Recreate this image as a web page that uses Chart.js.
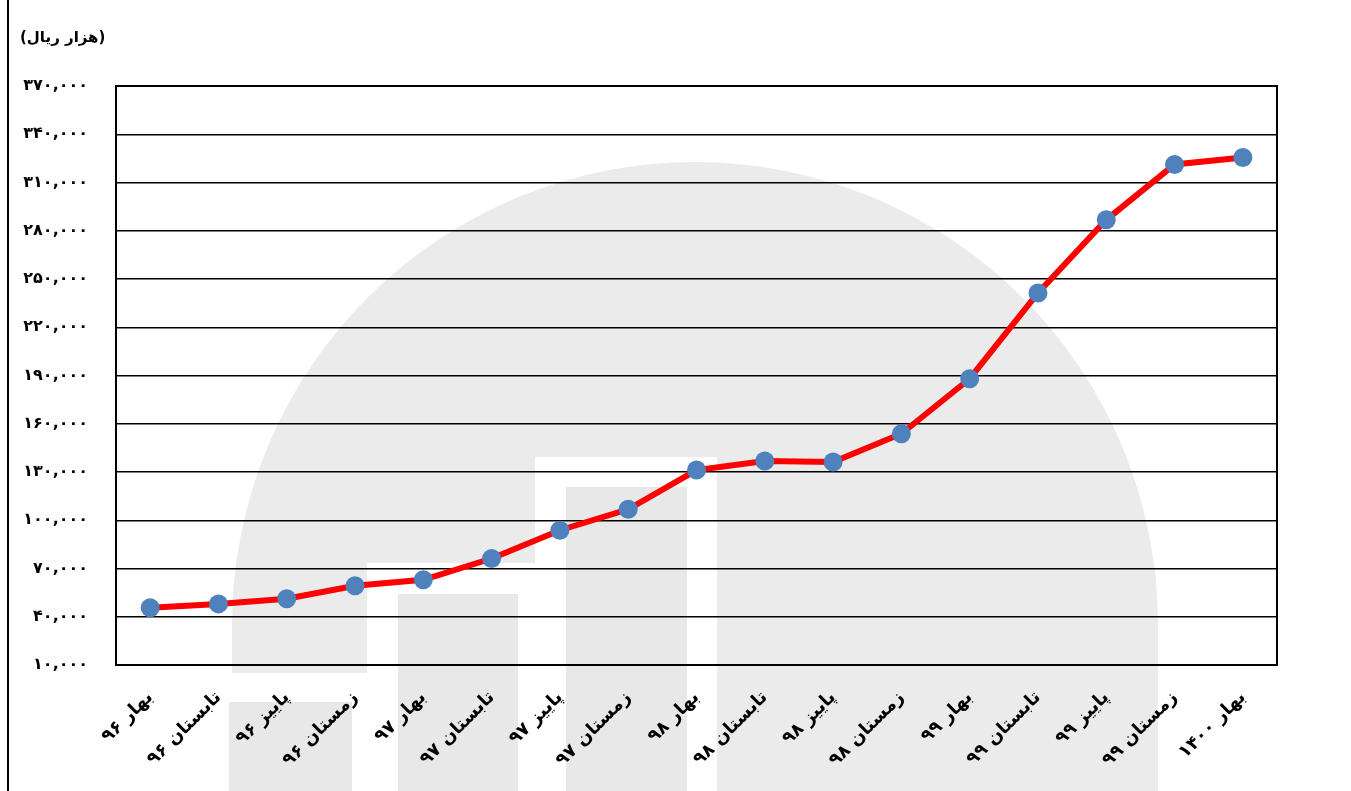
<!DOCTYPE html>
<html>
<head>
<meta charset="utf-8">
<script src="https://cdn.jsdelivr.net/npm/chart.js@4.4.1/dist/chart.umd.min.js"></script>
<style>
  body { margin: 0; background: #fff; }
  #wrap { position: relative; width: 1351px; height: 791px; overflow: hidden; }
  #edge { position: absolute; left: 7px; top: 0; width: 2px; height: 791px; background: #000; }
  #unit { position: absolute; left: 20px; top: 28px; font: bold 15px "DejaVu Sans", sans-serif; color: #000; }
</style>
</head>
<body>
<div id="wrap">
  <canvas id="chart" dir="rtl"></canvas>
  <div id="edge"></div>
  <div id="unit" dir="rtl">(هزار ریال)</div>
</div>
<script>
// quarters (season + year)
var quarters = ['بهار ۹۶', 'تابستان ۹۶', 'پاییز ۹۶', 'زمستان ۹۶',
                'بهار ۹۷', 'تابستان ۹۷', 'پاییز ۹۷', 'زمستان ۹۷',
                'بهار ۹۸', 'تابستان ۹۸', 'پاییز ۹۸', 'زمستان ۹۸',
                'بهار ۹۹', 'تابستان ۹۹', 'پاییز ۹۹', 'زمستان ۹۹',
                'بهار ۱۴۰۰'];
// values in thousand rials
var values = [45600, 48000, 51200, 59300, 63000, 76200, 93800, 106800,
              131200, 136800, 136200, 153800, 188000, 241300, 286800, 321200, 325600];

var yMin = 10000;
var yMax = 370000;
var yStep = 30000;

var faDigits = ['۰', '۱', '۲', '۳', '۴', '۵', '۶', '۷', '۸', '۹'];
function toFa(n) {
    var s = n.toLocaleString('en-US');
    return s.replace(/[0-9]/g, function (d) { return faDigits[+d]; });
}

// faint logo watermark behind everything
var watermark = {
    id: 'watermark',
    beforeDraw: function (chart) {
        var ctx = chart.ctx;
        ctx.save();
        ctx.fillStyle = '#ebebeb';
        ctx.beginPath();
        ctx.arc(695, 625, 463, Math.PI, 0);
        ctx.lineTo(1158, 800);
        ctx.lineTo(232, 800);
        ctx.closePath();
        ctx.fill();
        ctx.fillStyle = '#ffffff';
        ctx.fillRect(229, 673, 140, 130);
        ctx.fillRect(367, 563, 170, 240);
        ctx.fillRect(535, 457, 182, 340);
        ctx.fillStyle = '#e8e8e8';
        ctx.fillRect(229, 702, 123, 100);
        ctx.fillRect(398, 594, 120, 200);
        ctx.fillRect(566, 487, 121, 310);
        ctx.restore();
    },
    beforeDatasetsDraw: function (chart) {
        var a = chart.chartArea;
        var ctx = chart.ctx;
        ctx.save();
        ctx.strokeStyle = '#000';
        ctx.lineWidth = 2;
        ctx.strokeRect(a.left, a.top, a.right - a.left, a.bottom - a.top);
        ctx.restore();
    }
};

new Chart(document.getElementById('chart'), {
    type: 'line',
    data: {
        labels: quarters,
        datasets: [{
            data: values,
            borderColor: '#ff0000',
            borderWidth: 6,
            backgroundColor: '#4f81bd',
            pointBackgroundColor: '#4f81bd',
            pointBorderWidth: 0,
            pointRadius: 9.5,
            tension: 0
        }]
    },
    options: {
        responsive: true,
        maintainAspectRatio: false,
        animation: false,
        layout: { padding: { top: 86, right: 74, left: 0, bottom: 0 } },
        plugins: { legend: { display: false }, tooltip: { enabled: false } },
        scales: {
            x: {
                offset: true,
                grid: { display: false },
                border: { display: false },
                ticks: {
                    color: '#000',
                    font: { family: 'DejaVu Sans', size: 18, weight: 'bold' },
                    minRotation: 45,
                    maxRotation: 45,
                    autoSkip: false,
                    padding: 14
                },
                afterFit: function (s) { s.height = 126; }
            },
            y: {
                min: yMin,
                max: yMax,
                grid: { color: '#000', lineWidth: 1.5, drawTicks: false },
                border: { display: false },
                ticks: {
                    stepSize: yStep,
                    color: '#000',
                    padding: 28,
                    font: { family: 'DejaVu Sans', size: 16, weight: 'bold' },
                    callback: function (v) { return toFa(v); }
                },
                afterFit: function (s) { s.width = 116; }
            }
        }
    },
    plugins: [watermark]
});
</script>
</body>
</html>
